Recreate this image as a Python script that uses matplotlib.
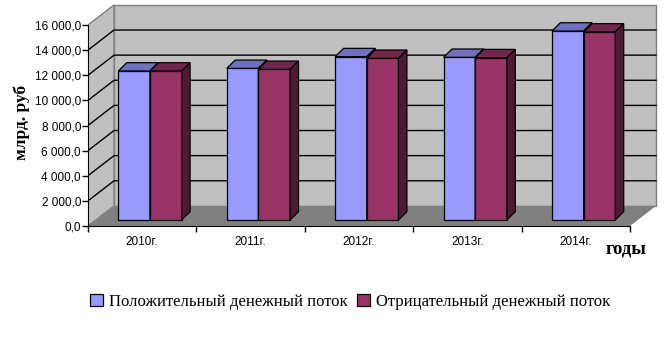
import matplotlib
matplotlib.use('Agg')
import matplotlib.pyplot as plt
from matplotlib.patches import Polygon, Rectangle

# data
years = ['2010г.', '2011г.', '2012г.', '2013г.', '2014г.']
positive_flow = [11860, 12070, 13000, 12950, 15040]
negative_flow = [11860, 11990, 12870, 12920, 14965]
y_ticks = [0, 2000, 4000, 6000, 8000, 10000, 12000, 14000, 16000]
y_tick_labels = ['0,0', '2 000,0', '4 000,0', '6 000,0', '8 000,0',
                 '10 000,0', '12 000,0', '14 000,0', '16 000,0']
series_names = ['Положительный денежный поток', 'Отрицательный денежный поток']

# pseudo-3d geometry (category units / value units)
FDX, FDY = 0.24, 1600      # floor depth
BX0, BY0 = 0.072, 480      # bar front plane
BDX, BDY = 0.078, 660      # bar depth
BW = 0.292                 # single bar width
Y_MAX = 16000

colors = {
    'pos': ('#9999ff', '#7070c0', '#5c5c99'),
    'neg': ('#993366', '#73264d', '#4d1a33'),
}

W, H = 667, 337
fig = plt.figure(figsize=(W / 100, H / 100), dpi=100)
px_cat = (630 - 88) / 5
px_val = (226 - 25) / Y_MAX
x_hi, y_hi = 5.3, 17700
ax = fig.add_axes([88 / W, (H - 226) / H, x_hi * px_cat / W, y_hi * px_val / H])
ax.set_xlim(0, x_hi)
ax.set_ylim(0, y_hi)
ax.patch.set_visible(False)

n = len(years)

# walls and floor
ax.add_patch(Polygon([(0, 0), (n, 0), (n + FDX, FDY), (FDX, FDY)],
                     closed=True, fc='#808080', ec='none', zorder=0.5))
ax.add_patch(Polygon([(FDX, FDY), (n + FDX, FDY), (n + FDX, Y_MAX + FDY), (FDX, Y_MAX + FDY)],
                     closed=True, fc='#c0c0c0', ec='#808080', lw=1, zorder=0.4))
ax.add_patch(Polygon([(0, 0), (FDX, FDY), (FDX, Y_MAX + FDY), (0, Y_MAX)],
                     closed=True, fc='#c0c0c0', ec='#808080', lw=1, zorder=0.4))

# gridlines
for v in y_ticks[1:-1]:
    ax.plot([0, FDX, n + FDX], [v, v + FDY, v + FDY], color='black', lw=1, zorder=0.8)

# bars
for i in range(n):
    x_left = i + 0.5 - BW + BX0
    for k, (vals, key) in enumerate([(positive_flow, 'pos'), (negative_flow, 'neg')]):
        v = vals[i]
        xl = x_left + k * BW
        front, top, side = colors[key]
        z = 3 + i * 2 + k
        ax.bar(xl, v, width=BW, bottom=BY0, align='edge', color=front,
               edgecolor='black', lw=0.9, zorder=z)
        ax.add_patch(Polygon([(xl, BY0 + v), (xl + BW, BY0 + v),
                              (xl + BW + BDX, BY0 + v + BDY), (xl + BDX, BY0 + v + BDY)],
                             closed=True, fc=top, ec='black', lw=0.9, zorder=z))
        ax.add_patch(Polygon([(xl + BW, BY0), (xl + BW, BY0 + v),
                              (xl + BW + BDX, BY0 + v + BDY), (xl + BW + BDX, BY0 + BDY)],
                             closed=True, fc=side, ec='black', lw=0.9, zorder=z))

# axes
for s in ['top', 'right']:
    ax.spines[s].set_visible(False)
ax.spines['left'].set_bounds(0, Y_MAX)
ax.spines['bottom'].set_bounds(0, n)
ax.spines['left'].set_zorder(1)
ax.set_yticks(y_ticks)
ax.set_yticklabels(y_tick_labels, family='Liberation Sans', fontsize=8.5)
ax.set_xticks(range(n + 1))
ax.set_xticklabels([])
ax.set_xticks([i + 0.5 for i in range(n)], minor=True)
ax.set_xticklabels(years, minor=True, family='Liberation Sans', fontsize=8.5)
ax.tick_params(axis='y', length=4, width=1, pad=1)
ax.tick_params(axis='x', which='major', length=4, width=1)
ax.tick_params(axis='x', which='minor', length=0, pad=7)

fig.text(22 / W, 1 - 122 / H, 'млрд. руб', rotation=90, ha='center', va='center',
         family='Liberation Serif', fontweight='bold', fontsize=12.5)
fig.text(626 / W, 1 - 249 / H, 'годы', ha='center', va='center',
         family='Liberation Serif', fontweight='bold', fontsize=13.5)

handles = [Rectangle((0, 0), 1, 1, fc=colors['pos'][0], ec='black', lw=0.9),
           Rectangle((0, 0), 1, 1, fc=colors['neg'][0], ec='black', lw=0.9)]
fig.legend(handles, series_names, loc='center', bbox_to_anchor=(350 / W, 1 - 302 / H),
           ncol=2, frameon=False, prop={'family': 'Liberation Serif', 'size': 12},
           handlelength=0.75, handleheight=0.75, handletextpad=0.35, columnspacing=0.6)

fig.savefig('out.png', dpi=100)
